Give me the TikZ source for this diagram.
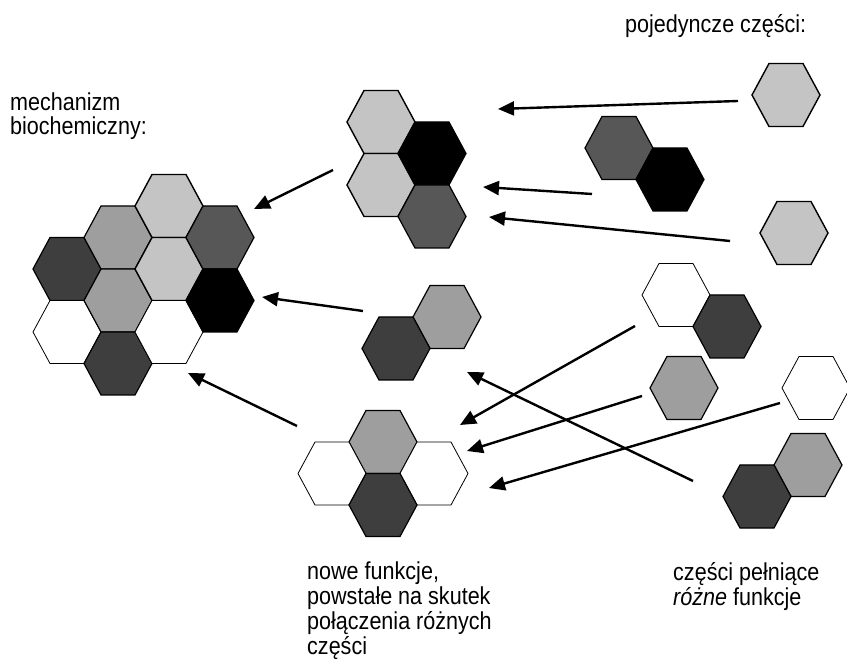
\documentclass[tikz,border=0pt]{standalone}
\usepackage{fontspec}
\setmainfont{Liberation Sans}[FakeStretch=0.88]
\usepackage{xcolor}
\usepackage{tikz}
\usetikzlibrary{arrows.meta}
\definecolor{partLight}{HTML}{C4C4C4}
\definecolor{partMid}{HTML}{9E9E9E}
\definecolor{partGray}{HTML}{575757}
\definecolor{partDark}{HTML}{3E3E3E}
\tikzset{
  hexPart/.pic={
    \path[pic actions] (-34,0) -- (-17,31.5) -- (17,31.5) -- (34,0) -- (17,-31.5) -- (-17,-31.5) -- cycle;
  },
  lightPart/.style={draw=black, line width=1.4pt, fill=partLight},
  midPart/.style={draw=black, line width=1.2pt, fill=partMid},
  grayPart/.style={draw=black, line width=1.2pt, fill=partGray},
  darkPart/.style={draw=black, line width=1.2pt, fill=partDark},
  blackPart/.style={draw=black, line width=1.2pt, fill=black},
  whitePart/.style={draw=black, line width=0.8pt, fill=white},
  arrowLine/.style={
    -{Triangle[length=16pt,width=14pt]},
    line width=2.4pt
  },
  labelText/.style={
    anchor=base west,
    align=left,
    inner sep=0pt,
    font=\fontsize{24.5}{24.8}\selectfont
  }
}

\begin{document}
\begin{tikzpicture}[x=1pt,y=-1pt]
        \useasboundingbox (0,0) rectangle (847,660);

        \node[labelText] (mechLabel) at (10,135) {mechanizm\\biochemiczny:};
        \node[labelText] (singleLabel) at (625,33) {pojedyncze części:};
        \node[labelText] (newLabel) at (307,654) {nowe funkcje,\\powstałe na skutek\\połączenia różnych\\części};
        \node[labelText] (diffLabel) at (673,605) {części pełniące\\\textit{różne} funkcje};

        % mechanizm
        \pic[darkPart] at (67,269) {hexPart};
        \pic[whitePart] at (67,332) {hexPart};
        \pic[midPart] at (118,237.5) {hexPart};
        \pic[midPart] at (118,300.5) {hexPart};
        \pic[darkPart] at (118,363.5) {hexPart};
        \pic[lightPart] at (169,206) {hexPart};
        \pic[lightPart] at (169,269) {hexPart};
        \pic[whitePart] at (169,332) {hexPart};
        \pic[grayPart] at (220,237.5) {hexPart};
        \pic[blackPart] at (220,300.5) {hexPart};

        \pic[lightPart] at (381,122) {hexPart};
        \pic[lightPart] at (381,185) {hexPart};
        \pic[blackPart] at (432,153.5) {hexPart};
        \pic[grayPart] at (432,216.5) {hexPart};

        \pic[midPart] at (447,317) {hexPart};
        \pic[darkPart] at (396,348.5) {hexPart};

        \pic[midPart] at (383,442) {hexPart};
        \pic[whitePart] at (332,473.5) {hexPart};
        \pic[whitePart] at (434,473.5) {hexPart};
        \pic[darkPart] at (383,505) {hexPart};

        % czesci
        \pic[lightPart] at (786,95) {hexPart};
        \pic[grayPart] at (619,148) {hexPart};
        \pic[blackPart] at (670,179.5) {hexPart};
        \pic[lightPart] at (794,233) {hexPart};
        \pic[whitePart] at (676,295) {hexPart};
        \pic[darkPart] at (727,326.5) {hexPart};
        \pic[midPart] at (684,388) {hexPart};
        \pic[whitePart] at (816,388) {hexPart};
        \pic[midPart] at (808,465) {hexPart};
        \pic[darkPart] at (757,496.5) {hexPart};

        \coordinate (singleA) at (738,101);
        \coordinate (pairA) at (592,194);
        \coordinate (singleB) at (730,241);
        \coordinate (pairB) at (635,326);
        \coordinate (singleC) at (642,396);
        \coordinate (singleD) at (780,403);
        \coordinate (pairC) at (693,481);
        \coordinate (quadOut) at (333,170);
        \coordinate (duoOut) at (363,311);
        \coordinate (crossOut) at (297,426);
        \coordinate (quadInA) at (498,109);
        \coordinate (quadInB) at (483,187);
        \coordinate (quadInC) at (489,217);
        \coordinate (duoIn) at (467,372);
        \coordinate (crossInA) at (460,425);
        \coordinate (crossInB) at (467,451);
        \coordinate (crossInC) at (489,488);
        \coordinate (mechInA) at (254,209);
        \coordinate (mechInB) at (262,297);
        \coordinate (mechInC) at (188,373);

        \draw[arrowLine] (singleA) -- (quadInA);
        \draw[arrowLine] (pairA) -- (quadInB);
        \draw[arrowLine] (singleB) -- (quadInC);
        \draw[arrowLine] (quadOut) -- (mechInA);
        \draw[arrowLine] (duoOut) -- (mechInB);
        \draw[arrowLine] (crossOut) -- (mechInC);
        \draw[arrowLine] (pairB) -- (crossInA);
        \draw[arrowLine] (singleC) -- (crossInB);
        \draw[arrowLine] (singleD) -- (crossInC);
        \draw[arrowLine] (pairC) -- (duoIn);

    \end{tikzpicture}
\end{document}
